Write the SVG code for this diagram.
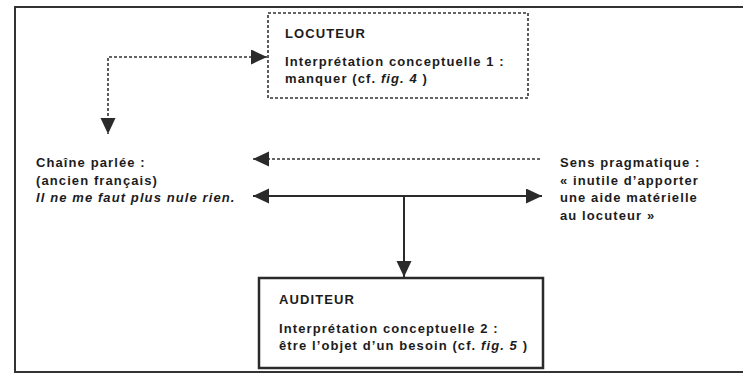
<svg xmlns="http://www.w3.org/2000/svg" width="743" height="374" viewBox="0 0 743 374">
<defs>
<style>
text{font-family:"Liberation Sans",Arial,sans-serif;font-size:13px;font-weight:bold;fill:#1c1c1c;letter-spacing:1.1px}
.it{font-style:italic}
.frame{stroke:#333;stroke-width:2;fill:none}
.dash{stroke:#333;stroke-width:1.6;fill:none;stroke-dasharray:3 2}
.solid{stroke:#2a2a2a;stroke-width:2;fill:none}
</style>
<marker id="ah" markerUnits="userSpaceOnUse" markerWidth="18" markerHeight="16" refX="16" refY="7.5" orient="auto-start-reverse" viewBox="0 0 18 16">
<path d="M0,0 L16,7.5 L0,15 Z" fill="#2a2a2a"/>
</marker>
</defs>
<rect width="743" height="374" fill="#fff"/>
<g id="frame">
<path class="frame" d="M743,7 H15 V372 H743"/>
</g>
<g id="connectors">
<path class="dash" d="M267,57 H108 V134" marker-start="url(#ah)" marker-end="url(#ah)"/>
<path class="dash" d="M540,159 H253" marker-end="url(#ah)"/>
<path class="solid" d="M253,196 H542" marker-start="url(#ah)" marker-end="url(#ah)"/>
<path class="solid" d="M404,196 V277" marker-end="url(#ah)"/>
</g>
<g id="locuteur">
<rect x="268" y="13" width="260" height="85" class="dash"/>
<text x="285" y="38">LOCUTEUR</text>
<text x="285" y="66">Interprétation conceptuelle 1 :</text>
<text x="285" y="83">manquer (cf. <tspan class="it">fig. 4</tspan> )</text>
</g>
<g id="chaine">
<text x="36" y="167">Chaîne parlée :</text>
<text x="36" y="185">(ancien français)</text>
<text x="36" y="202" class="it">Il ne me faut plus nule rien.</text>
</g>
<g id="sens">
<text x="560" y="167">Sens pragmatique :</text>
<text x="560" y="185">« inutile d’apporter</text>
<text x="560" y="202">une aide matérielle</text>
<text x="560" y="220">au locuteur »</text>
</g>
<g id="auditeur">
<rect x="259" y="278" width="284" height="90" fill="none" stroke="#2a2a2a" stroke-width="2.5"/>
<text x="279" y="304">AUDITEUR</text>
<text x="279" y="333">Interprétation conceptuelle 2 :</text>
<text x="279" y="350">être l’objet d’un besoin (cf. <tspan class="it">fig. 5</tspan> )</text>
</g>
</svg>
